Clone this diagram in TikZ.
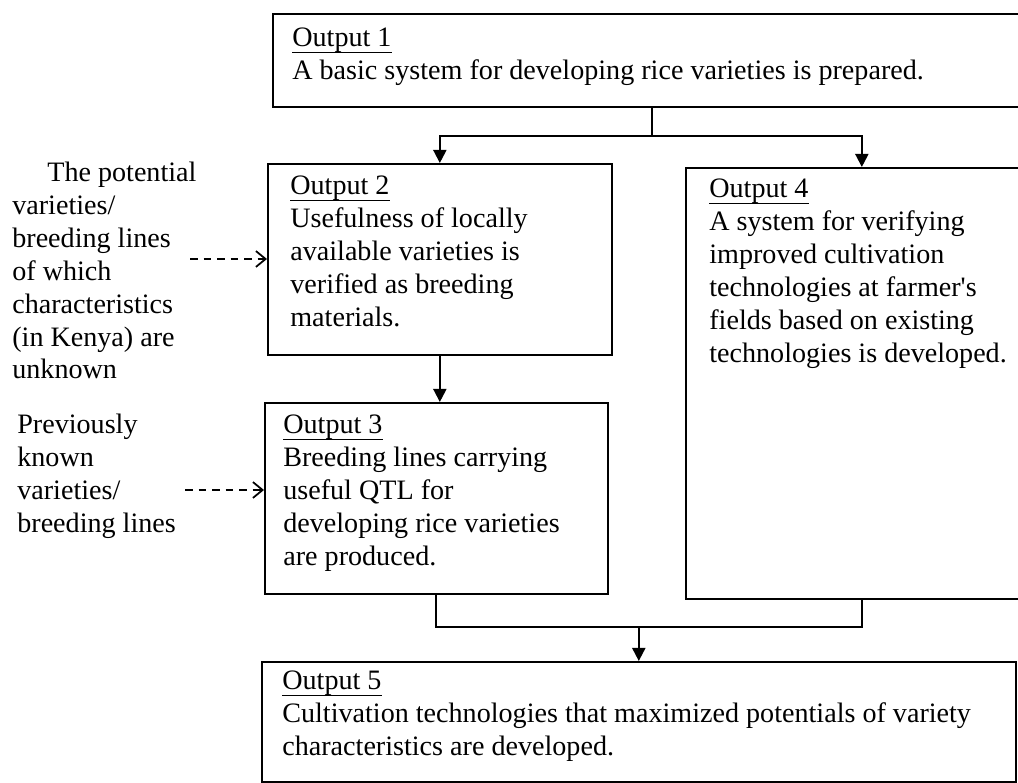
\documentclass[tikz,border=0pt]{standalone}
\usepackage{fontspec}
\setmainfont{Liberation Serif}
\usetikzlibrary{arrows.meta, positioning}
\newcommand{\outhead}[1]{\underline{\raisebox{0pt}[\height][1.6pt]{#1}}}

\begin{document}
\begin{tikzpicture}[x=0.02cm, y=-0.02cm,
        every node/.style={font=\fontsize{16}{18.7}\selectfont, inner sep=0pt},
        outbox/.style={draw, line width=1pt, anchor=north west},
        outtext/.style={anchor=north west, align=left},
        conn/.style={line width=1.1pt},
        arr/.style={conn, -{Triangle[length=7.5pt, width=7.5pt]}},
        dasharr/.style={line width=1pt, dash pattern=on 4.5pt off 3.2pt, -{Straight Barb[length=5.5pt, width=9pt]}}]
            \useasboundingbox (0,0) rectangle (1018,783);

            % output boxes
            \node[outbox, minimum width=15.16cm, minimum height=1.86cm] (o1) at (272,13) {};
            \node[outbox, minimum width=6.88cm, minimum height=3.82cm] (o2) at (267,163) {};
            \node[outbox, minimum width=6.86cm, minimum height=3.82cm] (o3) at (264,402) {};
            \node[outbox, minimum width=7.04cm, minimum height=8.62cm] (o4) at (685,167) {};
            \node[outbox, minimum width=15.08cm, minimum height=2.40cm] (o5) at (261,661) {};

            \node[outtext] (t1) at (292,28) {\outhead{Output 1}\\A basic system for developing rice varieties is prepared.};
            \node[outtext] (t2) at (290,176) {\outhead{Output 2}\\Usefulness of locally\\available varieties is\\verified as breeding\\materials.};
            \node[outtext] (t3) at (283,415) {\outhead{Output 3}\\Breeding lines carrying\\useful QTL for\\developing rice varieties\\are produced.};
            \node[outtext] (t4) at (709,179) {\outhead{Output 4}\\A system for verifying\\improved cultivation\\technologies at farmer\textquotesingle s\\fields based on existing\\technologies is developed.};
            \node[outtext] (t5) at (282,671) {\outhead{Output 5}\\Cultivation technologies that maximized potentials of variety\\characteristics are developed.};

            % inputs from the left
            \node[outtext] (in1) at (12,162) {\hspace*{0.7cm}The potential\\varieties/\\breeding lines\\of which\\characteristics\\(in Kenya) are\\unknown};
            \node[outtext] (in2) at (17,414) {Previously\\known\\varieties/\\breeding lines};

            \coordinate (src1) at (190,259);
            \coordinate (src2) at (185,490);
            \draw[dasharr] (src1) -- (src1 -| o2.west);
            \draw[dasharr] (src2) -- (src2 -| o3.west);

            % flow between outputs
            \coordinate (fork) at (o1.south |- 0,136);
            \draw[conn] (o1.south) -- (fork);
            \draw[arr] (fork) -| (o2.north);
            \draw[arr] (fork) -| (o4.north);
            \draw[arr] (o2.south) -- (o2.south |- o3.north);

            \coordinate (join) at (o5.north |- 0,627);
            \draw[conn] (o3.south) |- (join);
            \draw[conn] (o4.south) |- (join);
            \draw[arr] (join) -- (o5.north);
        \end{tikzpicture}
\end{document}
